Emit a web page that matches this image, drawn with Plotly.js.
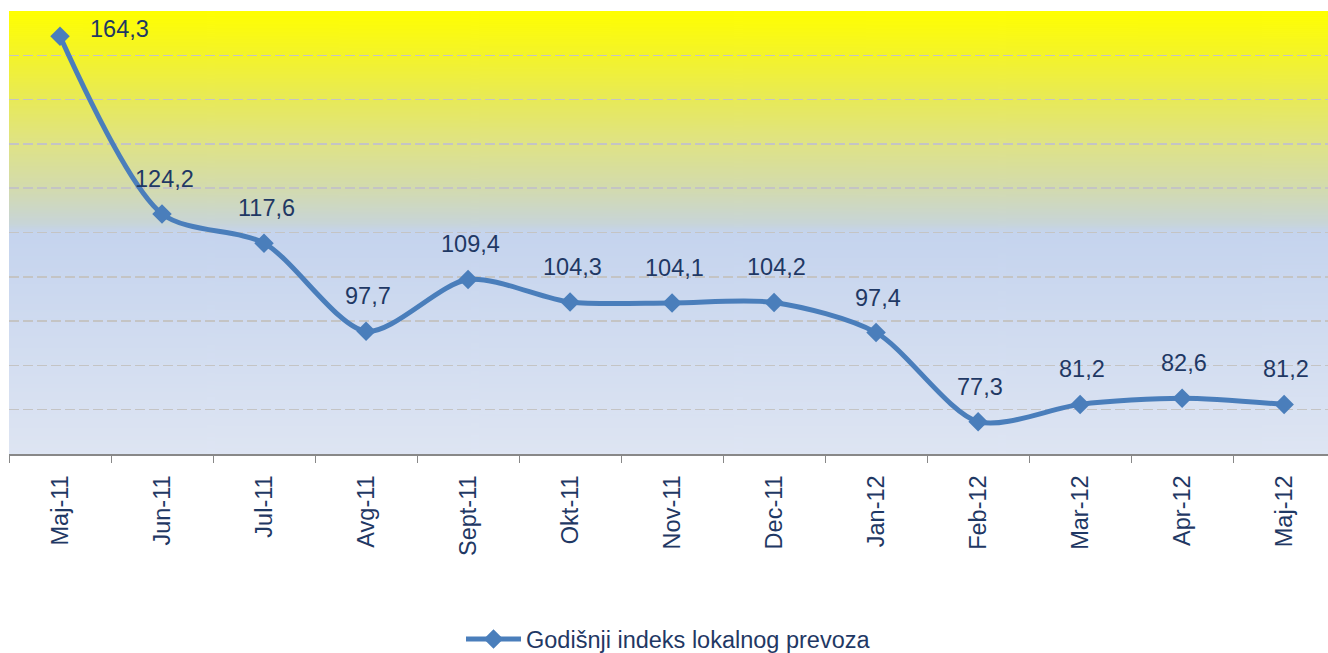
<!DOCTYPE html>
<html>
<head>
<meta charset="utf-8">
<script src="https://cdn.plot.ly/plotly-3.0.1.min.js"></script>
<style>html,body{margin:0;padding:0;background:#fff;}#chart{width:1328px;height:653px;}</style>
</head>
<body>
<div id="chart"></div>
<script>
const categories = ["Maj-11","Jun-11","Jul-11","Avg-11","Sept-11","Okt-11","Nov-11","Dec-11","Jan-12","Feb-12","Mar-12","Apr-12","Maj-12"];
const values = [164.3,124.2,117.6,97.7,109.4,104.3,104.1,104.2,97.4,77.3,81.2,82.6,81.2];
const labels = ["164,3","124,2","117,6","97,7","109,4","104,3","104,1","104,2","97,4","77,3","81,2","82,6","81,2"];
const seriesName = "Godišnji indeks lokalnog prevoza";

// background gradient
const cv = document.createElement('canvas');
cv.width = 10; cv.height = 444;
const ctx = cv.getContext('2d');
const g = ctx.createLinearGradient(0,0,0,444);
g.addColorStop(0.0,'#ffff00');
g.addColorStop(0.1,'#f4f42a');
g.addColorStop(0.2,'#e8ea58');
g.addColorStop(0.3,'#dfe386');
g.addColorStop(0.4,'#d3dbae');
g.addColorStop(0.48,'#c8d5d8');
g.addColorStop(0.5,'#c5d4ee');
g.addColorStop(1.0,'#dee5f3');
ctx.fillStyle = g; ctx.fillRect(0,0,10,444);
const bg = cv.toDataURL();

const navy = '#1f3864';
const FONT = 'Liberation Sans, Arial, sans-serif';
const trace = {
  x: categories, y: values, type:'scatter', mode:'lines+markers', name: seriesName,
  line:{color:'#4a7ebb', width:5, shape:'spline', smoothing:0.8},
  marker:{symbol:'diamond', size:15, color:'#4a7ebb'},
  hoverinfo:'skip'
};
const annotations = categories.map((c,i)=>({
  x:c, y:values[i], xref:'x', yref:'y', text:labels[i], showarrow:false,
  xshift: i===0 ? 59 : 2, yshift: i===0 ? 7 : 35,
  font:{family:FONT, size:23.5, color:navy}
}));
const layout = {
  width:1328, height:653,
  margin:{l:9, r:0, t:11, b:199, autoexpand:false},
  paper_bgcolor:'#ffffff', plot_bgcolor:'rgba(0,0,0,0)',
  images:[{source:bg, xref:'paper', yref:'paper', x:0, y:1, sizex:1, sizey:1, sizing:'stretch', layer:'below'}],
  xaxis:{type:'category', range:[-0.5,12.43], tickson:'boundaries', ticks:'outside', ticklen:7, tickcolor:'#888',
    showline:true, linecolor:'#888', linewidth:2, showgrid:false, tickangle:-90, ticklabelstandoff:10, automargin:false,
    tickfont:{family:FONT, size:23.5, color:navy}},
  yaxis:{range:[70,170], dtick:10, showticklabels:false, showgrid:true, gridcolor:'#c4c4c4', griddash:'10px,4px', gridwidth:1.5,
    zeroline:false, showline:false, fixedrange:true, automargin:false},
  showlegend:true,
  legend:{orientation:'h', x:0.5, xanchor:'center', y:-0.418, yanchor:'middle', itemwidth:55,
    font:{family:FONT, size:23.5, color:navy}, bgcolor:'rgba(0,0,0,0)'},
  annotations: annotations
};
Plotly.newPlot('chart',[trace],layout,{displayModeBar:false, staticPlot:true});
</script>
</body>
</html>
